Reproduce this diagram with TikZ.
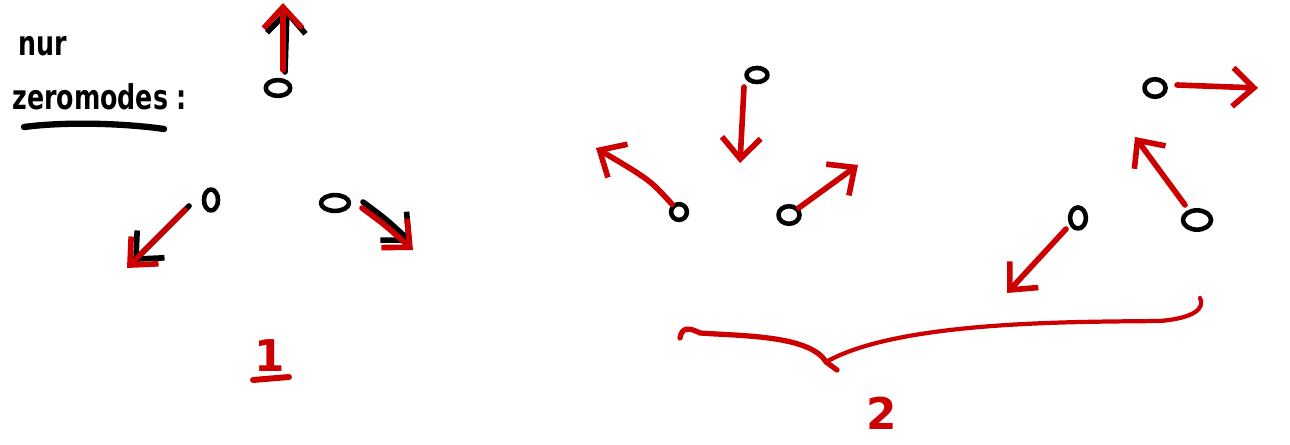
\documentclass[tikz,border=0pt]{standalone}
\usepackage{fontspec}
\setmainfont{DejaVu Sans}
\usetikzlibrary{arrows.meta,shapes.geometric}
\definecolor{pen}{RGB}{204,0,0}
\begin{document}
\begin{tikzpicture}[x=0.02cm, y=-0.02cm, line cap=round, line join=round,
  dot/.style={draw=black, ellipse, line width=2.6pt, inner sep=0pt},
  mode/.style={draw=pen, line width=3.2pt, -{Straight Barb[length=12pt,width=22pt,line width=3.2pt]}},
  ghost/.style={draw=black, line width=3.2pt, -{Straight Barb[length=12pt,width=22pt,line width=3.2pt]}}]
  \useasboundingbox (0,0) rectangle (1290,445);

  % title
  \node[anchor=west, font=\Large\bfseries] (nur) at (12,46) {\scalebox{1}[1.35]{nur}};
  \node[anchor=west, font=\Large\bfseries, inner sep=0pt] (zero) at (12,97) {\scalebox{1}[1.35]{zeromodes :}};
  \draw[line width=3.6pt] (24,127) .. controls (70,121) and (130,124) .. (164,129);

  % configuration 1
  \node[dot, minimum width=14pt, minimum height=9pt] (t1) at (278,88) {};
  \node[dot, minimum width=8pt, minimum height=12pt] (l1) at (211,200) {};
  \node[dot, minimum width=16pt, minimum height=9pt] (r1) at (335,203) {};
  \coordinate (t1e) at (283,3);
  \coordinate (l1e) at (127,268);
  \coordinate (r1e) at (413,250);

  \draw[ghost] (285,72) -- (287,8);
  \draw[ghost] (189,206) -- (133,262);
  \draw[ghost] (363,202) .. controls (386,219) .. (412,243);
  \draw[mode] (283,70) -- (t1e);
  \draw[mode] (185,210) -- (l1e);
  \draw[mode] (362,208) .. controls (385,225) .. (r1e);

  \node[text=pen, font=\Huge\bfseries] (one) at (270,356) {1};
  \draw[pen, line width=3.4pt] (253,380) -- (289,377);

  % configuration 2
  \node[dot, minimum width=12pt, minimum height=8pt] (t2) at (757,75) {};
  \node[dot, minimum width=9pt, minimum height=9pt] (l2) at (679,212) {};
  \node[dot, minimum width=12pt, minimum height=10pt] (r2) at (789,215) {};
  \coordinate (t2e) at (740,163);
  \coordinate (l2e) at (596,148);
  \coordinate (r2e) at (858,165);

  \draw[mode] (t2) ++(-13,12) -- (t2e);
  \draw[mode] (l2) .. controls (650,180) .. (l2e);
  \draw[mode] (r2) -- (r2e);

  % configuration 3
  \node[dot, minimum width=12pt, minimum height=10pt] (t3) at (1155,88) {};
  \node[dot, minimum width=9pt, minimum height=12pt] (l3) at (1078,218) {};
  \node[dot, minimum width=16pt, minimum height=11pt] (r3) at (1197,220) {};
  \coordinate (t3e) at (1258,88);
  \coordinate (r3e) at (1135,137);
  \coordinate (l3e) at (1007,293);

  \draw[mode] (t3) ++(22,-3) -- (t3e);
  \draw[mode] (r3) ++(-12,-15) -- (r3e);
  \draw[mode] (l3) ++(-12,11) -- (l3e);

  % brace over 2 and 3
  \coordinate (bl) at (680,338);
  \coordinate (bm) at (837,370);
  \coordinate (br) at (1200,298);
  \draw[pen, line width=3.0pt] (bl) .. controls (682,326) and (690,328) .. (700,333)
    .. controls (740,336) and (810,335) .. (826,362) -- (bm);
  \draw[pen, line width=2.4pt] (826,362) .. controls (900,320) and (1080,322) .. (1160,321)
    .. controls (1195,318) and (1205,308) .. (br);

  \node[text=pen, font=\Huge\bfseries] (two) at (882,413) {2};
\end{tikzpicture}
\end{document}
